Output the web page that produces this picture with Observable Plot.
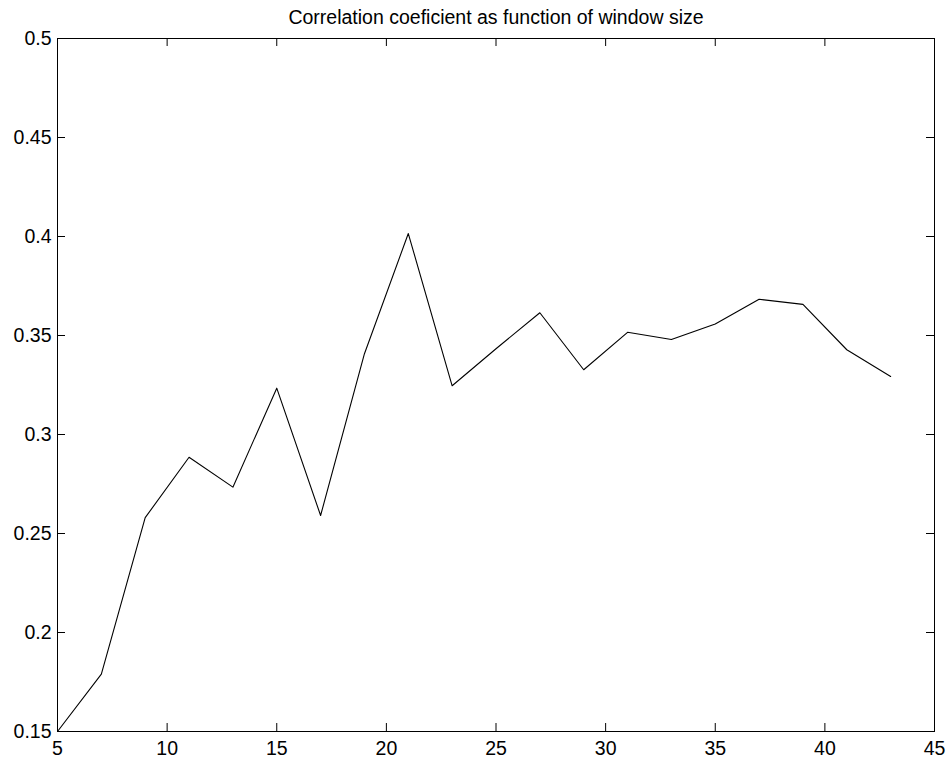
<!DOCTYPE html>
<html>
<head>
<meta charset="utf-8">
<script src="https://cdn.jsdelivr.net/npm/d3@7"></script>
<script src="https://cdn.jsdelivr.net/npm/@observablehq/plot@0.6"></script>
<style>
  html, body { margin: 0; padding: 0; background: #fff; }
  #chart svg { display: block; }
</style>
</head>
<body>
<div id="chart"></div>
<script>
const title = "Correlation coeficient as function of window size";
const windowSize = [5, 7, 9, 11, 13, 15, 17, 19, 21, 23, 25, 27, 29, 31, 33, 35, 37, 39, 41, 43];
const corrCoef = [0.150, 0.179, 0.258, 0.2885, 0.2734, 0.3234, 0.2591, 0.3408, 0.4015, 0.3246,
                  0.3433, 0.3615, 0.3327, 0.3516, 0.348, 0.3558, 0.3683, 0.3657, 0.3428, 0.3293];
const xTicks = [5, 10, 15, 20, 25, 30, 35, 40, 45];
const yTicks = [0.15, 0.2, 0.25, 0.3, 0.35, 0.4, 0.45, 0.5];
const yTickLabels = ["0.15", "0.2", "0.25", "0.3", "0.35", "0.4", "0.45", "0.5"];

const W = 946, H = 759;
const mTop = 38, mBottom = 28, mLeft = 57, mRight = 12;
const innerH = H - mTop - mBottom, innerW = W - mLeft - mRight;
const tickLen = 8;
const fs = 19.5;

const data = windowSize.map((x, i) => ({x, y: corrCoef[i]}));

const chart = Plot.plot({
  width: W,
  height: H,
  marginTop: mTop, marginBottom: mBottom, marginLeft: mLeft, marginRight: mRight,
  style: {fontFamily: "'Liberation Sans', Arial, Helvetica, sans-serif", fontSize: fs + "px", color: "#000", background: "#fff"},
  x: {domain: [5, 45], label: null},
  y: {domain: [0.15, 0.5], label: null},
  marks: [
    Plot.frame({stroke: "#000", strokeWidth: 1}),
    Plot.axisX(xTicks, {anchor: "bottom", tickSize: 0, tickPadding: 10, fontSize: fs, label: null, tickFormat: d => String(d)}),
    Plot.axisY(yTicks, {anchor: "left", tickSize: 0, tickPadding: 6, fontSize: fs, label: null, tickFormat: (d, i) => yTickLabels[i]}),
    // inward ticks on all four sides
    Plot.tickX(xTicks, {x: d => d, insetTop: innerH - tickLen, stroke: "#000"}),
    Plot.tickX(xTicks, {x: d => d, insetBottom: innerH - tickLen, stroke: "#000"}),
    Plot.tickY(yTicks, {y: d => d, insetRight: innerW - tickLen, stroke: "#000"}),
    Plot.tickY(yTicks, {y: d => d, insetLeft: innerW - tickLen, stroke: "#000"}),
    Plot.line(data, {x: "x", y: "y", stroke: "#000", strokeWidth: 1.1}),
    Plot.text([title], {frameAnchor: "top", dy: -15, lineAnchor: "bottom", text: d => d, fontSize: fs, fill: "#000"})
  ]
});
document.getElementById("chart").appendChild(chart);
</script>
</body>
</html>
